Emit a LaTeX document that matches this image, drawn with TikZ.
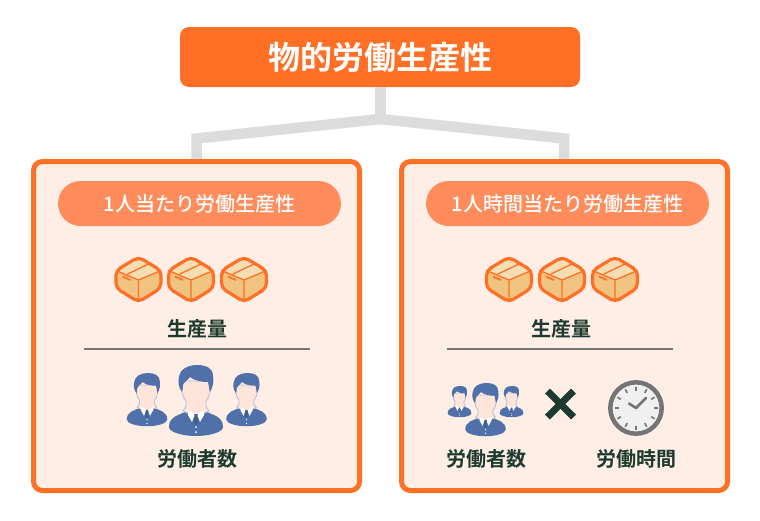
\documentclass[tikz,border=0pt]{standalone}
\usepackage{fontspec}
\newfontfamily\cjk[BoldFont={Noto Sans CJK JP Medium}]{Noto Sans CJK JP}
\newfontfamily\cjkb{Noto Sans CJK JP Bold}
\definecolor{orangeA}{HTML}{FF6F26}
\definecolor{pillC}{HTML}{FF8C5A}
\definecolor{panelC}{HTML}{FFEEE6}
\definecolor{darkC}{HTML}{1C3A2E}
\definecolor{greyL}{HTML}{DCDCDC}
\definecolor{boxA}{HTML}{F0C480}
\definecolor{boxB}{HTML}{F6DDB2}
\definecolor{suitC}{HTML}{4F70A8}
\definecolor{faceC}{HTML}{FFE4D9}
\definecolor{clockC}{HTML}{757575}
\tikzset{
  x=1pt,y=-1pt,
  titlebox/.style={fill=orangeA,rounded corners=9pt,minimum width=400pt,minimum height=60pt,text=white,outer sep=0pt,
    font=\cjkb\fontsize{32}{36}\selectfont},
  panel/.style={draw=orangeA,fill=panelC,line width=5pt,rounded corners=9pt,minimum width=326pt,minimum height=329pt,outer sep=0pt},
  pill/.style={fill=pillC,rounded corners=22.5pt,minimum width=283pt,minimum height=45pt,text=white,outer sep=0pt,
    font=\cjk\bfseries\fontsize{20}{24}\selectfont},
  lbl/.style={text=darkC,inner sep=0pt,font=\cjkb\fontsize{20}{24}\selectfont},
  link/.style={draw=greyL,line width=10.5pt,miter limit=10},
  rule/.style={draw=clockC,line width=2pt},
  box/.pic={
    \fill[boxA,rounded corners=5pt] (0,-22)--(22.5,-8.5)--(22.5,9)--(0,23)--(-22.5,9)--(-22.5,-8.5)--cycle;
    \fill[boxB,rounded corners=2pt] (0,-22)--(22.5,-8.5)--(0,1)--(-22.5,-8.5)--cycle;
    \draw[orangeA,line width=1.3pt] (-22.5,-8.5)--(0,1)--(22.5,-8.5) (0,1)--(0,23) (-11,-5)--(10,-15);
    \draw[orangeA,line width=1.8pt] (-16,-2.5)--(-8,1);
    \draw[orangeA,line width=3.2pt,rounded corners=5pt,line join=round]
      (0,-22)--(22.5,-8.5)--(22.5,9)--(0,23)--(-22.5,9)--(-22.5,-8.5)--cycle;
  },
  person/.pic={
    % body
    \fill[suitC] (-8,46) .. controls (-18,50) and (-27,52) .. (-27,62)
      .. controls (-27,67) and (-14,71) .. (0,71)
      .. controls (14,71) and (27,67) .. (27,62)
      .. controls (27,52) and (18,50) .. (8,46) -- cycle;
    % face and neck, with its pale outline
    \filldraw[fill=faceC,draw=white!55!suitC,line width=.8pt] (-14,16)
      .. controls (-15,26) and (-14,32) .. (-10,36)
      .. controls (-9,42) and (-12,44) .. (-13,46)
      -- (0,52) -- (13,46)
      .. controls (12,44) and (9,42) .. (10,36)
      .. controls (14,32) and (15,26) .. (14,16) -- cycle;
    % hair
    \fill[suitC] (-14,27) .. controls (-18,22) and (-18,16) .. (-17,12)
      .. controls (-16,4) and (-8,0) .. (1,0)
      .. controls (10,0) and (17,3) .. (17,11)
      .. controls (18,16) and (17,22) .. (14,27)
      .. controls (13,24) and (13,20) .. (12,17)
      .. controls (6,17) and (-1,16) .. (-6,12)
      .. controls (-8,15) and (-12,17) .. (-13,20)
      .. controls (-13,22) and (-13,24) .. (-14,27) -- cycle;
    % collar
    \fill[white] (-8,45)--(-1,49)--(-4,57)--(-8,50)--cycle (8,45)--(1,49)--(4,57)--(8,50)--cycle;
    \fill[suitC!85!black] (-1.6,49)--(1.6,49)--(2,58)--(0,60)--(-2,58)--cycle;
    \fill[white] (0,62) circle (1) (0,67) circle (1);
  },
}
\begin{document}
\begin{tikzpicture}
\useasboundingbox[fill=white] (0,0) rectangle (760,520);
\node[titlebox] (title) at (380,57) {物的労働生産性};
\coordinate (j) at (380.5,119);
\coordinate (ja) at (196.5,138.5);
\coordinate (jb) at (564,138.5);
\coordinate (jc) at (196.5,161);
\coordinate (jd) at (564,161);
\draw[link] (jc) -- (ja) -- (j) -- (jb) -- (jd);
\draw[link] (title.south -| j) -- ([yshift=-1pt]j);
\node[panel] (lp) at (196.5,326) {};
\node[panel] (rp) at (564.5,326) {};
\node[pill] (lpill) at (199.5,203.5) {1人当たり労働生産性};
\node[pill] (rpill) at (567.5,203.5) {1人時間当たり労働生産性};
\pic at (138.5,279) {box};
\pic at (191,279) {box};
\pic at (244,279) {box};
\pic at (509,279) {box};
\pic at (562,279) {box};
\pic at (615,279) {box};
\node[lbl] (qa) at (197,329) {生産量};
\node[lbl] (qb) at (561,329) {生産量};
\coordinate (da) at (84,349); \coordinate (db) at (310,349);
\coordinate (dc) at (447,349); \coordinate (dd) at (673,349);
\draw[rule] (da) -- (db);
\draw[rule] (dc) -- (dd);
\pic[scale=.75] at (147,373) {person};
\pic[scale=.75] at (246.5,373) {person};
\pic at (196,365) {person};
\node[lbl] (wa) at (197,459) {労働者数};
\pic[scale=.44] at (459.5,386) {person};
\pic[scale=.44] at (511.5,386) {person};
\pic[scale=.75] at (485.5,383) {person};
\node[lbl] (wb) at (486,459) {労働者数};
\node[lbl] (tb) at (636,459) {労働時間};
\coordinate (xc) at (560.5,404);
\draw[darkC,line width=7pt] ([xshift=-13pt,yshift=-13pt]xc) -- ([xshift=13pt,yshift=13pt]xc);
\draw[darkC,line width=7pt] ([xshift=-13pt,yshift=13pt]xc) -- ([xshift=13pt,yshift=-13pt]xc);
\begin{scope}[shift={(636,408)}]
  \draw[clockC,fill=black!6,line width=4.5pt] (0,0) circle (25.7);
  \foreach \a in {0,30,...,330}{\draw[clockC,line width=1.6pt] (\a:17.5) -- (\a:21.5);}
  \draw[clockC,line width=2.6pt,line cap=round,line join=round] (-7,-4.5) -- (0,0) -- (10,-10);
\end{scope}
\end{tikzpicture}
\end{document}
